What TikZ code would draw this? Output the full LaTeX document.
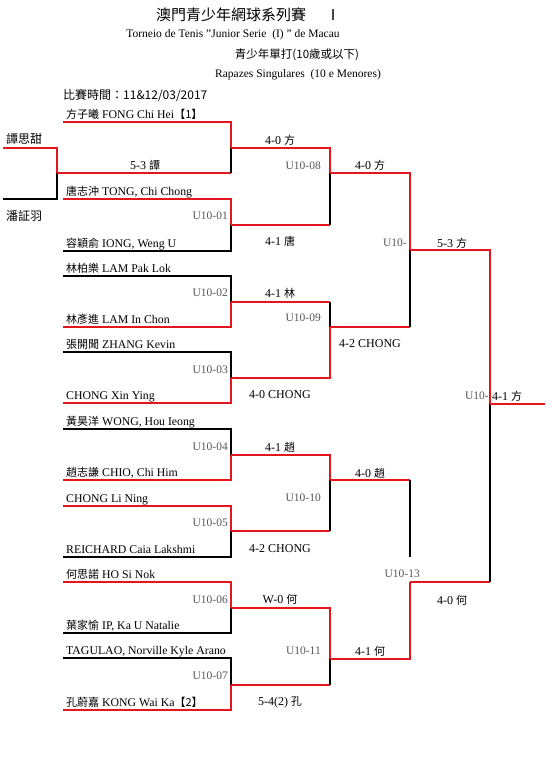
\documentclass[tikz,border=0pt]{standalone}
\usepackage{fontspec}
\setmainfont{Liberation Serif}
\newfontfamily\cjkfont{Noto Sans CJK TC}
\usetikzlibrary{positioning}

\definecolor{winred}{RGB}{228,22,28}
\definecolor{codegray}{RGB}{85,85,85}

\newcommand{\hz}[1]{{\cjkfont\fontsize{11}{13}\selectfont #1}}
\newcommand{\sz}[1]{{\cjkfont\fontsize{11}{13}\selectfont #1}}

\tikzset{
  win/.style={draw=winred, line width=1.7pt},
  lose/.style={draw=black, line width=1.7pt},
  player/.style={inner sep=0pt, text depth=0pt, font=\fontsize{11.8}{13}\selectfont},
  side/.style={inner sep=0pt, font=\cjkfont\fontsize{12}{14}\selectfont},
  score/.style={inner sep=0pt, font=\fontsize{12}{14}\selectfont},
  code/.style={anchor=east, inner sep=0pt, text=codegray, font=\fontsize{11.5}{13}\selectfont},
}

\begin{document}
\begin{tikzpicture}[x=1pt, y=-1pt]
\useasboundingbox (0,0) rectangle (552,759);

% header
\node[anchor=west, inner sep=0pt] (title) at (156,15) {\cjkfont\fontsize{15}{18}\selectfont 澳門青少年網球系列賽\hspace{1.3em}Ⅰ};
\node (sub1) at (233,35) {\fontsize{11.5}{13}\selectfont Torneio de Tenis "Junior Serie\ \ (I) " de Macau};
\node (sub2) at (297,55) {\cjkfont\fontsize{11.5}{13}\selectfont 青少年單打(10歲或以下)};
\node (sub3) at (298,75) {\fontsize{11.5}{13}\selectfont Rapazes Singulares\ \ (10 e Menores)};
\node[anchor=west, inner sep=0pt] (date) at (63,95) {\cjkfont\fontsize{12}{14}\selectfont 比賽時間：11\&12/03/2017};

% line starts
\coordinate (t1) at (3,148);
\coordinate (t2) at (3,199);
\coordinate (p1) at (63,122);
\coordinate (p2) at (63,199);
\coordinate (p3) at (63,251);
\coordinate (p4) at (63,276);
\coordinate (p5) at (63,327);
\coordinate (p6) at (63,352);
\coordinate (p7) at (63,403);
\coordinate (p8) at (63,429);
\coordinate (p9) at (63,480);
\coordinate (p10) at (63,506);
\coordinate (p11) at (63,557);
\coordinate (p12) at (63,582);
\coordinate (p13) at (63,633);
\coordinate (p14) at (63,658);
\coordinate (p15) at (63,710);

% junctions
\coordinate (pre) at (57,173);
\coordinate (r0) at (231,148);
\coordinate (u01) at (231,225);
\coordinate (u02) at (231,302);
\coordinate (u03) at (231,378);
\coordinate (u04) at (231,455);
\coordinate (u05) at (231,531);
\coordinate (u06) at (231,608);
\coordinate (u07) at (231,685);
\coordinate (u08) at (330,173);
\coordinate (u09) at (330,327);
\coordinate (u10) at (330,480);
\coordinate (u11) at (330,659);
\coordinate (u12) at (410,250);
\coordinate (u13) at (410,582);
\coordinate (gap) at (410,557);
\coordinate (fin) at (490,404);
\coordinate (champ) at (545,404);

% players
\node[side, above right=3pt and 3pt of t1] (tam) {譚思甜};
\node[side, below right=11pt and 3pt of t2] (pun) {潘証羽};
\node[player, above right=3pt and 3pt of p1] (n1) {\hz{方子曦} FONG Chi Hei\hz{【1】}};
\node[player, above right=3pt and 3pt of p2] (n2) {\hz{唐志沖} TONG, Chi Chong};
\node[player, above right=3pt and 3pt of p3] (n3) {\hz{容穎俞} IONG, Weng U};
\node[player, above right=3pt and 3pt of p4] (n4) {\hz{林柏樂} LAM Pak Lok};
\node[player, above right=3pt and 3pt of p5] (n5) {\hz{林彥進} LAM In Chon};
\node[player, above right=3pt and 3pt of p6] (n6) {\hz{張開聞} ZHANG Kevin};
\node[player, above right=3pt and 3pt of p7] (n7) {CHONG Xin Ying};
\node[player, above right=3pt and 3pt of p8] (n8) {\hz{黃昊洋} WONG, Hou Ieong};
\node[player, above right=3pt and 3pt of p9] (n9) {\hz{趙志謙} CHIO, Chi Him};
\node[player, above right=3pt and 3pt of p10] (n10) {CHONG Li Ning};
\node[player, above right=3pt and 3pt of p11] (n11) {REICHARD Caia Lakshmi};
\node[player, above right=3pt and 3pt of p12] (n12) {\hz{何思諾} HO Si Nok};
\node[player, above right=3pt and 3pt of p13] (n13) {\hz{葉家愉} IP, Ka U Natalie};
\node[player, above right=3pt and 3pt of p14] (n14) {TAGULAO, Norville Kyle Arano};
\node[player, above right=3pt and 3pt of p15] (n15) {\hz{孔蔚嘉} KONG Wai Ka\hz{【2】}};

% match codes
\node[code] (c01) at (228,216) {U10-01};
\node[code] (c02) at (228,293) {U10-02};
\node[code] (c03) at (228,370) {U10-03};
\node[code] (c04) at (228,447) {U10-04};
\node[code] (c05) at (228,523) {U10-05};
\node[code] (c06) at (228,600) {U10-06};
\node[code] (c07) at (228,676) {U10-07};
\node[code] (c08) at (321,166) {U10-08};
\node[code] (c09) at (321,318) {U10-09};
\node[code] (c10) at (321,498) {U10-10};
\node[code] (c11) at (321,651) {U10-11};
\node[code] (c12) at (407,243) {U10-};
\node[code] (c13) at (420,574) {U10-13};
\node[code] (cf) at (489,396) {U10-};

% scores
\node[score] (s0) at (145,165) {5-3 \sz{譚}};
\node[score] (s00) at (280,140) {4-0 \sz{方}};
\node[score] (s01) at (280,241) {4-1 \sz{唐}};
\node[score] (s02) at (280,293) {4-1 \sz{林}};
\node[score] (s03) at (280,395) {4-0 CHONG};
\node[score] (s04) at (280,447) {4-1 \sz{趙}};
\node[score] (s05) at (280,549) {4-2 CHONG};
\node[score] (s06) at (280,599) {W-0 \sz{何}};
\node[score] (s07) at (280,702) {5-4(2) \sz{孔}};
\node[score] (s08) at (370,165) {4-0 \sz{方}};
\node[score] (s09) at (370,344) {4-2 CHONG};
\node[score] (s10) at (370,473) {4-0 \sz{趙}};
\node[score] (s11) at (370,651) {4-1 \sz{何}};
\node[score] (s12) at (452,243) {5-3 \sz{方}};
\node[score] (s13) at (452,600) {4-0 \sz{何}};
\node[score, anchor=west] (sf) at (492,396) {4-1 \sz{方}};

% preliminary
\draw[lose] (t2) -| (pre);
\draw[win] (t1) -| (pre);
\draw[win] (pre) -- (pre -| r0);
\draw[lose] (pre -| r0) -- (r0);
\draw[win] (p1) -| (r0);

% first round
\draw[lose] (p3) -| (u01);
\draw[win] (p2) -| (u01);
\draw[lose] (p4) -| (u02);
\draw[win] (p5) -| (u02);
\draw[lose] (p6) -| (u03);
\draw[win] (p7) -| (u03);
\draw[lose] (p8) -| (u04);
\draw[win] (p9) -| (u04);
\draw[lose] (p11) -| (u05);
\draw[win] (p10) -| (u05);
\draw[lose] (p13) -| (u06);
\draw[win] (p12) -| (u06);
\draw[lose] (p14) -| (u07);
\draw[win] (p15) -| (u07);

% second round
\draw[win] (u01) -- (u01 -| u08);
\draw[lose] (u01 -| u08) -- (u08);
\draw[win] (r0) -| (u08);
\draw[win] (u02) -- (u02 -| u09);
\draw[lose] (u02 -| u09) -- (u09);
\draw[win] (u03) -| (u09);
\draw[win] (u05) -- (u05 -| u10);
\draw[lose] (u05 -| u10) -- (u10);
\draw[win] (u04) -| (u10);
\draw[win] (u07) -- (u07 -| u11);
\draw[lose] (u07 -| u11) -- (u11);
\draw[win] (u06) -| (u11);

% semi finals
\draw[win] (u09) -- (u09 -| u12);
\draw[lose] (u09 -| u12) -- (u12);
\draw[win] (u08) -| (u12);
\draw[win] (u10) -- (u10 -| u13);
\draw[lose] (u10 -| u13) -- (gap);
\draw[win] (u11) -| (u13);

% final
\draw[win] (u13) -- (u13 -| fin);
\draw[lose] (u13 -| fin) -- (fin);
\draw[win] (u12) -| (fin);
\draw[win] (fin) -- (champ);
\end{tikzpicture}
\end{document}
